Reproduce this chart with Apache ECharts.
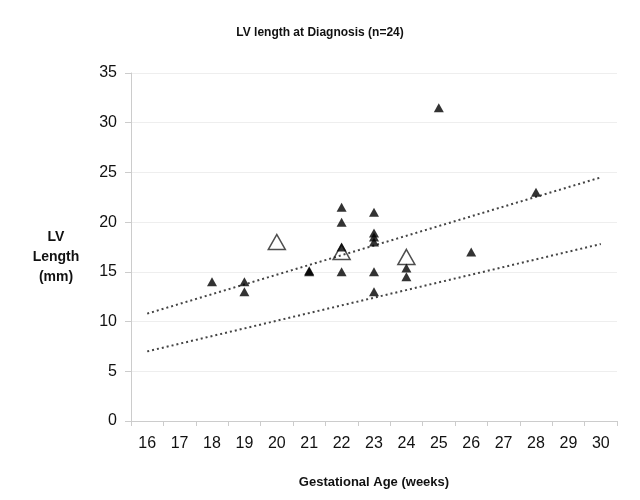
<!DOCTYPE html>
<html>
<head>
<meta charset="utf-8">
<script src="https://cdn.jsdelivr.net/npm/echarts@6/dist/echarts.min.js"></script>
<style>
  html, body { margin: 0; padding: 0; background: #fff; }
  #chart { width: 640px; height: 500px; }
</style>
</head>
<body>
<div id="chart"></div>
<script>
// gestational age categories (weeks)
const weeks = ['16', '17', '18', '19', '20', '21', '22', '23', '24', '25', '26', '27', '28', '29', '30']

// filled triangles: [week, LV length mm]
const filledPoints = [
  ['18', 14],
  ['19', 14], ['19', 13],
  ['21', 15], ['21', 15.1],
  ['22', 21.5], ['22', 20], ['22', 17.5], ['22', 15],
  ['23', 21], ['23', 18.9], ['23', 18.5], ['23', 18], ['23', 15], ['23', 13],
  ['24', 15.4], ['24', 14.5],
  ['25', 31.5],
  ['26', 17],
  ['28', 23]
]

// open triangles
const openPoints = [
  ['20', 18],
  ['22', 17],
  ['24', 16.5]
]

// dotted reference lines (ends)
const upperLine = [['16', 10.8], ['30', 24.5]]
const lowerLine = [['16', 7], ['30', 17.8]]

const font = 'Liberation Sans, Arial, sans-serif'

let chart = echarts.init(document.getElementById('chart'), null, { renderer: 'canvas' })
let option = {
  backgroundColor: '#fff',
  animation: false,
  title: [
    {
      text: 'LV length at Diagnosis (n=24)',
      left: 'center',
      top: 22,
      textStyle: { fontFamily: font, fontSize: 12, fontWeight: 'bold', color: '#111' }
    },
    {
      // y axis title, sits a bit below the plot middle like the original
      text: 'LV\nLength\n(mm)',
      left: 51,
      top: 222,
      textAlign: 'center',
      textStyle: { fontFamily: font, fontSize: 14, fontWeight: 'bold', color: '#111', lineHeight: 20 }
    }
  ],
  grid: { left: 131, right: 23, top: 73, bottom: 79 },
  xAxis: {
    type: 'category',
    data: weeks,
    boundaryGap: true,
    name: 'Gestational Age (weeks)',
    nameLocation: 'middle',
    nameGap: 55,
    nameTextStyle: { fontFamily: font, fontSize: 13, fontWeight: 'bold', color: '#111' },
    axisLine: { lineStyle: { color: '#ccc' } },
    axisTick: { show: true, length: 5, lineStyle: { color: '#ccc' } },
    axisLabel: { fontFamily: font, fontSize: 16, color: '#111', margin: 15 },
    splitLine: { show: false }
  },
  yAxis: {
    type: 'value',
    min: 0,
    max: 35,
    interval: 5,
    axisLine: { show: true, lineStyle: { color: '#ccc' } },
    axisTick: { show: true, length: 6, lineStyle: { color: '#ccc' } },
    axisLabel: { fontFamily: font, fontSize: 16, color: '#111', margin: 14 },
    splitLine: { lineStyle: { color: '#eee' } }
  },
  series: [
    {
      type: 'line',
      data: upperLine,
      symbol: 'none',
      lineStyle: { color: '#444', width: 2, type: [2, 3] },
      z: 1
    },
    {
      type: 'line',
      data: lowerLine,
      symbol: 'none',
      lineStyle: { color: '#444', width: 2, type: [2, 3] },
      z: 1
    },
    {
      type: 'scatter',
      data: openPoints,
      symbol: 'triangle',
      symbolSize: [17, 15],
      itemStyle: { color: 'rgba(255,255,255,0)', borderColor: '#222', borderWidth: 1.5 },
      z: 2
    },
    {
      type: 'scatter',
      data: filledPoints,
      symbol: 'triangle',
      symbolSize: [10, 9],
      itemStyle: { color: '#000' },
      z: 3
    }
  ]
}
chart.setOption(option)
</script>
</body>
</html>
